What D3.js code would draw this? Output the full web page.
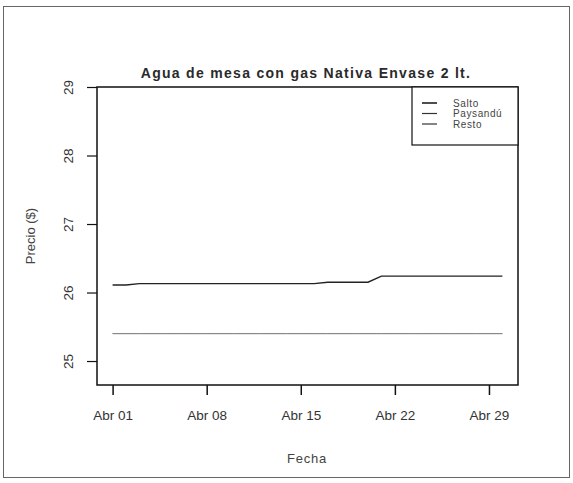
<!DOCTYPE html>
<html>
<head>
<meta charset="utf-8">
<script src="https://cdn.jsdelivr.net/npm/d3@7"></script>
<style>
  body { margin: 0; background: #fff; }
</style>
</head>
<body>
<script>
// data (daily, April)
const dates = ["2010-04-01","2010-04-02","2010-04-03","2010-04-04","2010-04-05","2010-04-06",
  "2010-04-07","2010-04-08","2010-04-09","2010-04-10","2010-04-11","2010-04-12","2010-04-13",
  "2010-04-14","2010-04-15","2010-04-16","2010-04-17","2010-04-18","2010-04-19","2010-04-20",
  "2010-04-21","2010-04-22","2010-04-23","2010-04-24","2010-04-25","2010-04-26","2010-04-27",
  "2010-04-28","2010-04-29","2010-04-30"];

const salto = [26.11,26.11,26.13,26.13,26.13,26.13,26.13,26.13,26.13,26.13,26.13,26.13,26.13,
  26.13,26.13,26.13,26.15,26.15,26.15,26.15,26.24,26.24,26.24,26.24,26.24,26.24,26.24,26.24,
  26.24,26.24];

const paysandu = [25.4,25.4,25.4,25.4,25.4,25.4,25.4,25.4,25.4,25.4,25.4,25.4,25.4,25.4,25.4,
  25.4,25.4,25.4,25.4,25.4,25.4,25.4,25.4,25.4,25.4,25.4,25.4,25.4,25.4,25.4];

const resto = [25.4,25.4,25.4,25.4,25.4,25.4,25.4,25.4,25.4,25.4,25.4,25.4,25.4,25.4,25.4,
  25.4,25.4,25.4,25.4,25.4,25.4,25.4,25.4,25.4,25.4,25.4,25.4,25.4,25.4,25.4];

const seriesNames = ["Salto", "Paysandú", "Resto"];
const yTicks = [25, 26, 27, 28, 29];
const xTicks = ["2010-04-01","2010-04-08","2010-04-15","2010-04-22","2010-04-29"];
const meses = ["Ene","Feb","Mar","Abr","May","Jun","Jul","Ago","Sep","Oct","Nov","Dic"];

const parse = d3.timeParse("%Y-%m-%d");

let svg = d3.select("body").append("svg")
  .attr("width", 573)
  .attr("height", 483)
  .style("font-family", "'Liberation Sans', Arial, sans-serif");

// scanned page frame
svg.append("rect")
  .attr("x", 3.5).attr("y", 6.5)
  .attr("width", 566).attr("height", 471)
  .attr("fill", "none")
  .attr("stroke", "#666")
  .attr("stroke-width", 1);

const pLeft = 97, pRight = 518, pTop = 87, pBottom = 385;

const first = parse(dates[0]), last = parse(dates[dates.length - 1]);
const pad = (last - first) * 0.04;

let x = d3.scaleTime()
  .domain([new Date(+first - pad), new Date(+last + pad)])
  .range([pLeft, pRight]);

let y = d3.scaleLinear()
  .domain([24.65, 29])
  .range([pBottom, pTop]);

// plot box
svg.append("rect")
  .attr("x", pLeft).attr("y", pTop)
  .attr("width", pRight - pLeft).attr("height", pBottom - pTop)
  .attr("fill", "none")
  .attr("stroke", "#111")
  .attr("stroke-width", 1.5);

// x axis
let xAxis = svg.append("g")
  .attr("transform", "translate(0," + pBottom + ")")
  .call(d3.axisBottom(x)
    .tickValues(xTicks.map(parse))
    .tickSize(10)
    .tickFormat(d => meses[d.getMonth()] + " " + d3.timeFormat("%d")(d)));
xAxis.select(".domain").remove();
xAxis.selectAll(".tick line").attr("stroke", "#111").attr("stroke-width", 1.5);
xAxis.selectAll(".tick text")
  .attr("y", 25)
  .attr("font-size", "13.5px")
  .attr("font-family", "'Liberation Sans', Arial, sans-serif")
  .attr("fill", "#333");

// y axis
let yAxis = svg.append("g")
  .attr("transform", "translate(" + pLeft + ",0)")
  .call(d3.axisLeft(y).tickValues(yTicks).tickSize(10).tickFormat(d3.format("d")));
yAxis.select(".domain").remove();
yAxis.selectAll(".tick line").attr("stroke", "#111").attr("stroke-width", 1.2);
yAxis.selectAll(".tick text")
  .attr("x", 0)
  .attr("y", 0)
  .attr("text-anchor", "middle")
  .attr("transform", "translate(-29,0) rotate(-90)")
  .attr("dy", "0.35em")
  .attr("font-size", "13.5px")
  .attr("font-family", "'Liberation Sans', Arial, sans-serif")
  .attr("fill", "#333");

// lines
const line = d3.line()
  .x((d, i) => x(parse(dates[i])))
  .y(d => y(d));

const lineColors = ["#222", "#888", "#888"];
const lineWidths = [1.4, 1, 1];
[salto, paysandu, resto].forEach((vals, k) => {
  svg.append("path")
    .datum(vals)
    .attr("fill", "none")
    .attr("stroke", lineColors[k])
    .attr("stroke-width", lineWidths[k])
    .attr("d", line);
});

// legend
svg.append("rect")
  .attr("x", 412).attr("y", pTop)
  .attr("width", pRight - 412).attr("height", 58)
  .attr("fill", "#fff")
  .attr("stroke", "#111")
  .attr("stroke-width", 1.2);

let legend = svg.selectAll()
  .data(seriesNames)
  .enter()
  .append("g")
  .attr("transform", (d, i) => "translate(422," + (103 + i * 10.5) + ")");
legend.append("line")
  .attr("x1", 0).attr("x2", 15)
  .attr("stroke", (d, i) => i == 0 ? "#222" : "#333")
  .attr("stroke-width", (d, i) => i == 0 ? 1.6 : 1.2);
legend.append("text")
  .attr("x", 31)
  .attr("dy", "0.35em")
  .attr("font-size", "10px")
  .attr("letter-spacing", "0.6px")
  .attr("fill", "#444")
  .text(d => d);

// title
svg.append("text")
  .attr("x", 306)
  .attr("y", 78)
  .attr("text-anchor", "middle")
  .attr("font-size", "14px")
  .attr("font-weight", "bold")
  .attr("letter-spacing", "1.3px")
  .attr("fill", "#2a2a2a")
  .text("Agua de mesa con gas Nativa Envase 2 lt.");

// axis titles
svg.append("text")
  .attr("x", 307)
  .attr("y", 463)
  .attr("text-anchor", "middle")
  .attr("font-size", "13px")
  .attr("letter-spacing", "0.8px")
  .attr("fill", "#444")
  .text("Fecha");

svg.append("text")
  .attr("text-anchor", "middle")
  .attr("font-size", "13px")
  .attr("fill", "#444")
  .attr("transform", "translate(35,236) rotate(-90)")
  .text("Precio ($)");
</script>
</body>
</html>
